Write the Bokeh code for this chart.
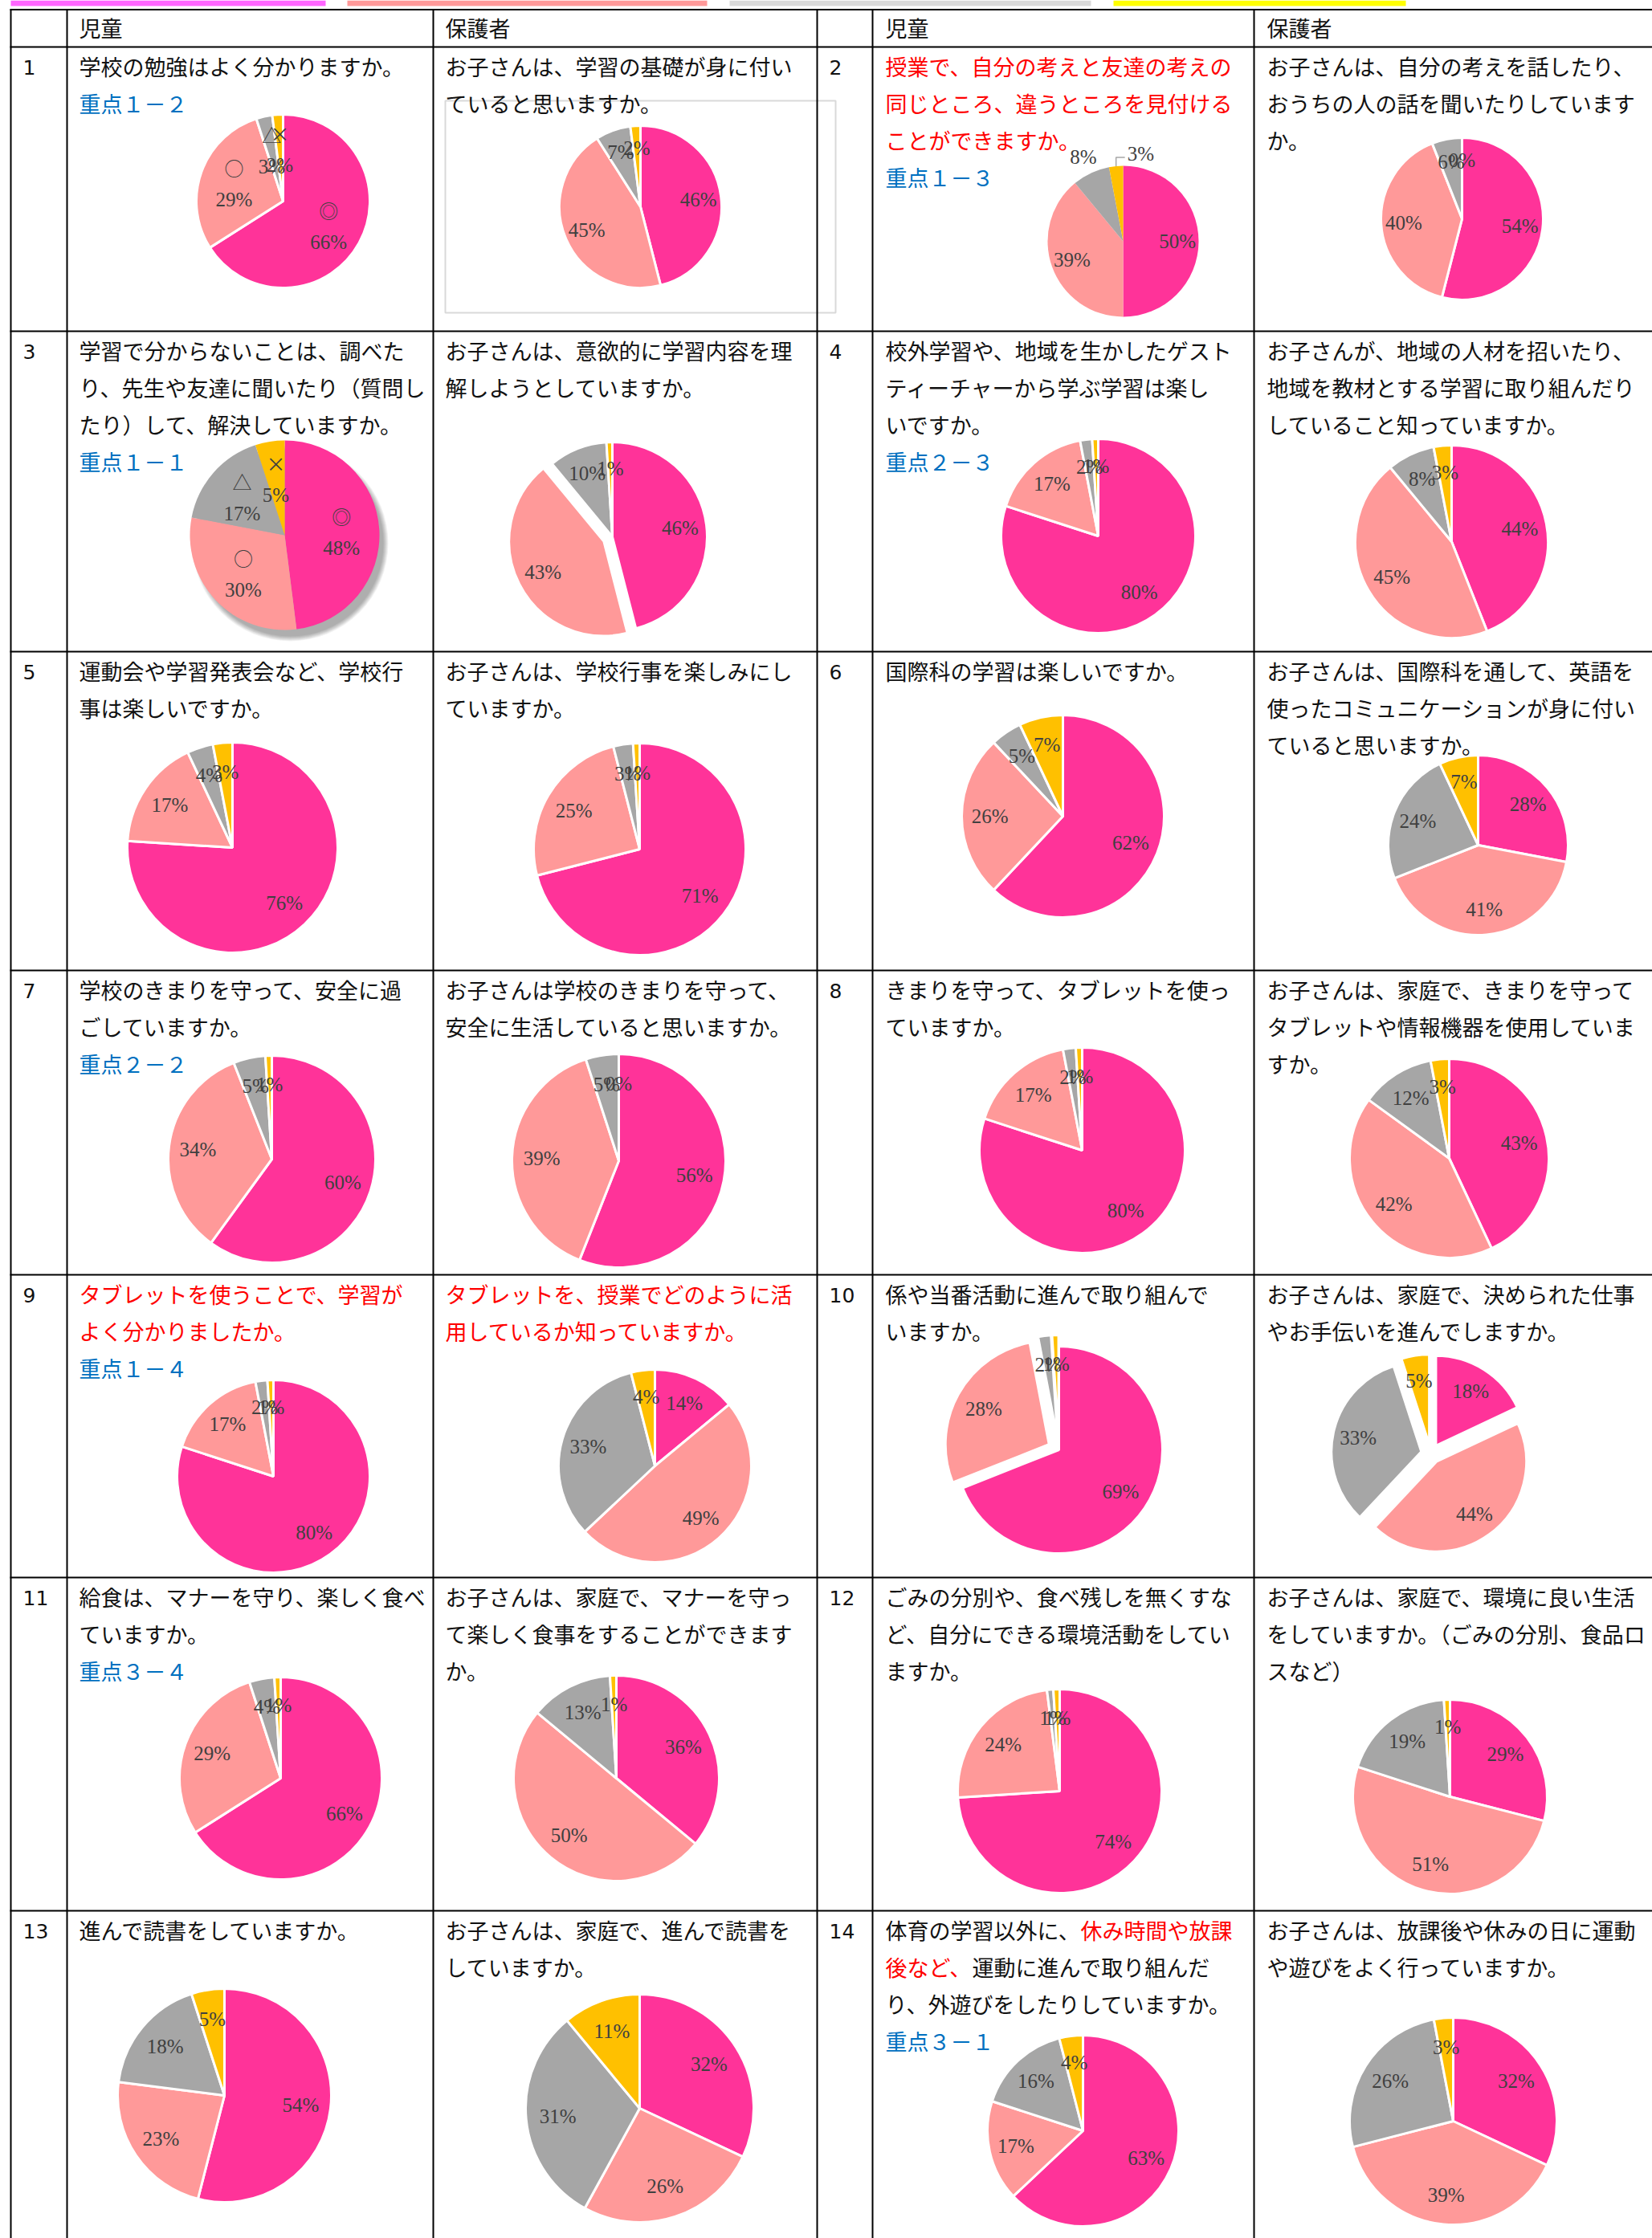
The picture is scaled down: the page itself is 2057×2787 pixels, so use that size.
import math
from bokeh.plotting import figure
from bokeh.models import Range1d, ColumnDataSource
from bokeh.core.properties import value
from bokeh.embed import file_html
from bokeh.resources import INLINE

# ---------------- data ----------------
question_no = ["1", "2", "3", "4", "5", "6", "7", "8", "9", "10", "11", "12", "13", "14"]
answer_marks = ["◎", "○", "△", "×"]
# pies in order: Q1 child, Q1 parent, Q2 child, Q2 parent, ... Q14 parent
v_very = [66, 46, 50, 54, 48, 46, 80, 44, 76, 71, 62, 28, 60, 56, 80, 43, 80, 14, 69, 18, 66, 36, 74, 29, 54, 32, 63, 32]
v_good = [29, 45, 39, 40, 30, 43, 17, 45, 17, 25, 26, 41, 34, 39, 17, 42, 17, 49, 28, 44, 29, 50, 24, 51, 23, 26, 17, 39]
v_little = [3, 7, 8, 6, 17, 10, 2, 8, 4, 3, 5, 24, 5, 5, 2, 12, 2, 33, 2, 33, 4, 13, 1, 19, 18, 31, 16, 26]
v_not = [2, 2, 3, 0, 5, 1, 1, 3, 3, 1, 7, 7, 1, 0, 1, 3, 1, 4, 1, 5, 1, 1, 1, 1, 5, 11, 4, 3]

header_child = "児童"
header_parent = "保護者"

child_text = [
    ["学校の勉強はよく分かりますか。"],
    ["授業で、自分の考えと友達の考えの", "同じところ、違うところを見付ける", "ことができますか。"],
    ["学習で分からないことは、調べた", "り、先生や友達に聞いたり（質問し", "たり）して、解決していますか。"],
    ["校外学習や、地域を生かしたゲスト", "ティーチャーから学ぶ学習は楽し", "いですか。"],
    ["運動会や学習発表会など、学校行", "事は楽しいですか。"],
    ["国際科の学習は楽しいですか。"],
    ["学校のきまりを守って、安全に過", "ごしていますか。"],
    ["きまりを守って、タブレットを使っ", "ていますか。"],
    ["タブレットを使うことで、学習が", "よく分かりましたか。"],
    ["係や当番活動に進んで取り組んで", "いますか。"],
    ["給食は、マナーを守り、楽しく食べ", "ていますか。"],
    ["ごみの分別や、食べ残しを無くすな", "ど、自分にできる環境活動をしてい", "ますか。"],
    ["進んで読書をしていますか。"],
    [[("体育の学習以外に、", "k"), ("休み時間や放課", "r")],
     [("後など、", "r"), ("運動に進んで取り組んだ", "k")],
     "り、外遊びをしたりしていますか。"],
]
parent_text = [
    ["お子さんは、学習の基礎が身に付い", "ていると思いますか。"],
    ["お子さんは、自分の考えを話したり、", "おうちの人の話を聞いたりしています", "か。"],
    ["お子さんは、意欲的に学習内容を理", "解しようとしていますか。"],
    ["お子さんが、地域の人材を招いたり、", "地域を教材とする学習に取り組んだり", "していること知っていますか。"],
    ["お子さんは、学校行事を楽しみにし", "ていますか。"],
    ["お子さんは、国際科を通して、英語を", "使ったコミュニケーションが身に付い", "ていると思いますか。"],
    ["お子さんは学校のきまりを守って、", "安全に生活していると思いますか。"],
    ["お子さんは、家庭で、きまりを守って", "タブレットや情報機器を使用していま", "すか。"],
    ["タブレットを、授業でどのように活", "用しているか知っていますか。"],
    ["お子さんは、家庭で、決められた仕事", "やお手伝いを進んでしますか。"],
    ["お子さんは、家庭で、マナーを守っ", "て楽しく食事をすることができます", "か。"],
    ["お子さんは、家庭で、環境に良い生活", "をしていますか。（ごみの分別、食品ロ", "スなど）"],
    ["お子さんは、家庭で、進んで読書を", "していますか。"],
    ["お子さんは、放課後や休みの日に運動", "や遊びをよく行っていますか。"],
]
red_child = {2, 9}
red_parent = {9}
focus_label = {1: "重点１－２", 2: "重点１－３", 3: "重点１－１", 4: "重点２－３",
               7: "重点２－２", 9: "重点１－４", 11: "重点３－４", 14: "重点３－１"}

# ---------------- layout / style ----------------
W, H = 2057, 2787
COLORS = ["#FF3399", "#FF9999", "#A6A6A6", "#FFC000"]
STRIP_COLORS = ["#FF66FF", "#FF9999", "#D9D9D9", "#FFFF00"]
strip_left = [13, 432, 908, 1386]
strip_right = [405, 880, 1358, 1750]
RED, BLUE, BLACK, LBL = "#FF0000", "#0070C0", "#111111", "#404040"
JP = "Noto Sans CJK JP"
FS = 27
row_tops = [58, 412, 811, 1208, 1587, 1964, 2379]
col_lines = [13, 83, 539, 1017, 1086, 1561]
text_x = [98, 554, 1102, 1577]
num_x = [28, 1032]
pie_geom = [(352, 250, 108), (797, 257, 101), (1398, 300, 94), (1820, 272, 101),
            (354, 666, 118), (762, 668, 118), (1367, 667, 121), (1807, 674, 120),
            (289, 1055, 131), (796, 1057, 132), (1323, 1016, 126), (1840, 1052, 112),
            (338, 1443, 129), (770, 1445, 133), (1347, 1432, 128), (1804, 1442, 124),
            (340, 1838, 120), (815, 1825, 120), (1318, 1805, 129), (1781, 1810, 112),
            (349, 2214, 126), (767, 2214, 128), (1319, 2230, 127), (1805, 2237, 121),
            (279, 2609, 133), (796, 2625, 142), (1348, 2653, 119), (1809, 2641, 129)]
explode = {5: {1: 12}, 18: {1: 14, 2: 14, 3: 14}, 19: {0: 12, 1: 12, 2: 12, 3: 12}}
no_border = {2, 4}
mark_pies = {0, 4}

p = figure(width=W, height=H, x_range=Range1d(0, W), y_range=Range1d(-H, 0),
           output_backend="svg", toolbar_location=None, min_border=0,
           x_axis_location=None, y_axis_location=None)
p.grid.visible = False
p.outline_line_color = None
p.background_fill_color = "white"
p.border_fill_color = "white"

texts = {}


def add_text(x, y, t, color, font=JP, size=FS, align="left"):
    key = (font, size, align)
    d = texts.setdefault(key, {"x": [], "y": [], "t": [], "c": []})
    d["x"].append(x)
    d["y"].append(-y)
    d["t"].append(t)
    d["c"].append(color)


# colour strips at the very top
p.quad(left=strip_left, right=strip_right, top=[0] * 4, bottom=[-7] * 4,
       fill_color=STRIP_COLORS, line_color=None)

# chart-area frame of Q1 parent
p.quad(left=[554], right=[1040], top=[-125], bottom=[-389], fill_color=None,
       line_color="#D9D9D9", line_width=2)

# table lines
hy = [11.5] + row_tops
p.segment(x0=[12] * len(hy), x1=[2060] * len(hy), y0=[-y for y in hy], y1=[-y for y in hy],
          line_color="black", line_width=2)
p.segment(x0=col_lines, x1=col_lines, y0=[-11] * len(col_lines), y1=[-2790] * len(col_lines),
          line_color="black", line_width=2)

# header
for ci, lab in enumerate([header_child, header_parent, header_child, header_parent]):
    add_text(text_x[ci], 34, lab, BLACK)

LINE0, LS = 24, 46
for q in range(1, 15):
    row = (q - 1) // 2
    top = row_tops[row]
    ccol = 0 if q % 2 == 1 else 2
    add_text(num_x[0 if q % 2 == 1 else 1], top + LINE0 + 1, question_no[q - 1], BLACK,
             "DejaVu Sans", 25, "left")
    for li, line in enumerate(child_text[q - 1]):
        y = top + LINE0 + li * LS
        if isinstance(line, list):
            x = text_x[ccol]
            for seg, col in line:
                add_text(x, y, seg, RED if col == "r" else BLACK)
                x += len(seg) * FS
        else:
            add_text(text_x[ccol], y, line, RED if q in red_child else BLACK)
    if q in focus_label:
        add_text(text_x[ccol], top + LINE0 + len(child_text[q - 1]) * LS, focus_label[q], BLUE)
    for li, line in enumerate(parent_text[q - 1]):
        add_text(text_x[ccol + 1], top + LINE0 + li * LS, line, RED if q in red_parent else BLACK)

# pies
wedges = {True: {"x": [], "y": [], "r": [], "s": [], "e": [], "c": []},
          False: {"x": [], "y": [], "r": [], "s": [], "e": [], "c": []}}
leader_x, leader_y = [], []
for i, (cx, cy, r) in enumerate(pie_geom):
    vals = [v_very[i], v_good[i], v_little[i], v_not[i]]
    if i == 4:  # soft shadow of the 3-D styled pie
        for k in range(7):
            p.circle(x=[cx + 7], y=[-(cy + 10)], radius=r + 4 - k * 1.0, fill_color="black",
                     fill_alpha=0.05, line_color=None)
    cum = 0
    for j, v in enumerate(vals):
        a0 = 360 * cum / 100.0
        a1 = 360 * (cum + v) / 100.0
        cum += v
        mid = math.radians((a0 + a1) / 2)
        e = explode.get(i, {}).get(j, 0)
        ox, oy = cx + e * math.sin(mid), cy - e * math.cos(mid)
        if v > 0:
            d = wedges[i not in no_border]
            d["x"].append(ox)
            d["y"].append(-oy)
            d["r"].append(r)
            d["s"].append(math.radians(90 - a1))
            d["e"].append(math.radians(90 - a0))
            d["c"].append(COLORS[j])
        pct = "%d%%" % v
        if i == 2 and j == 2:
            dd = 1.24 * r
            add_text(cx + dd * math.sin(mid), cy - dd * math.cos(mid), pct, LBL,
                     "Liberation Serif", 25, "center")
        elif i == 2 and j == 3:
            rx, ry = cx + r * math.sin(mid), cy - r * math.cos(mid)
            leader_x.append([rx, rx, rx + 11])
            leader_y.append([-ry, -(ry - 11), -(ry - 11)])
            add_text(rx + 14, ry - 15, pct, LBL, "Liberation Serif", 25, "left")
        elif i in mark_pies:
            dd = 0.6 * r
            lx, ly = cx + dd * math.sin(mid), cy - dd * math.cos(mid)
            add_text(lx, ly - 20, answer_marks[j], LBL, JP, 24, "center")
            add_text(lx, ly + 20, pct, LBL, "Liberation Serif", 25, "center")
        else:
            dd = 0.72 * r + e
            add_text(cx + dd * math.sin(mid), cy - dd * math.cos(mid), pct, LBL,
                     "Liberation Serif", 25, "center")

for bordered, d in wedges.items():
    src = ColumnDataSource(d)
    p.wedge(x="x", y="y", radius="r", start_angle="s", end_angle="e", direction="anticlock",
            fill_color="c", line_color="white" if bordered else None,
            line_width=3 if bordered else 0, source=src)

if leader_x:
    p.multi_line(xs=leader_x, ys=leader_y, line_color="#A6A6A6", line_width=1.5)

for (font, size, align), d in texts.items():
    src = ColumnDataSource(d)
    p.text(x="x", y="y", text="t", text_color="c", source=src, text_font=value(font),
           text_font_size=value("%dpx" % size), text_align=align, text_baseline="middle")

open("out.html", "w").write(file_html(p, INLINE))
